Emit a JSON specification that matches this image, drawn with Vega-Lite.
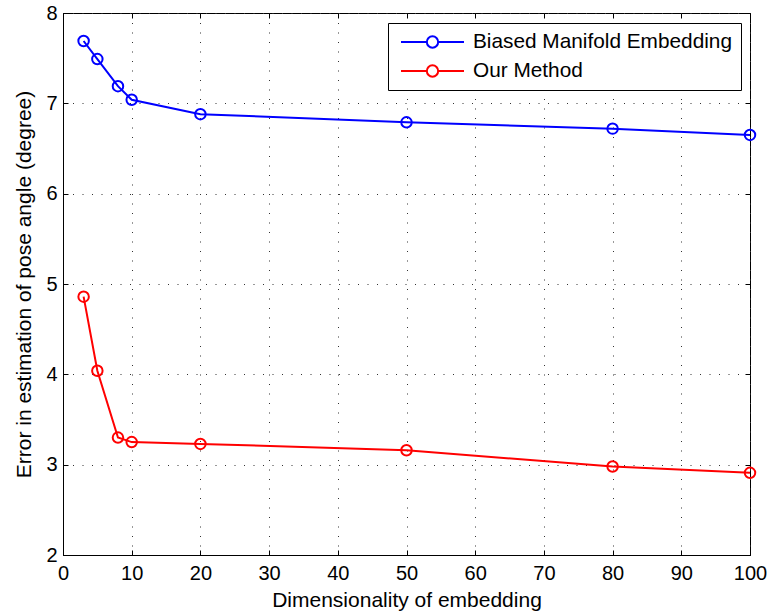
{
  "$schema": "https://vega.github.io/schema/vega-lite/v6.json",
  "width": 687,
  "height": 542,
  "autosize": "none",
  "padding": {"left": 63, "top": 13, "right": 22, "bottom": 60},
  "background": "white",
  "config": {
    "view": {"stroke": "black", "strokeWidth": 1},
    "font": "Liberation Sans",
    "axis": {
      "labelFont": "Liberation Sans",
      "titleFont": "Liberation Sans",
      "labelFontSize": 20,
      "titleFontSize": 21,
      "titleFontWeight": "normal",
      "labelColor": "black",
      "titleColor": "black",
      "domainColor": "black",
      "tickColor": "black",
      "gridColor": "#333333",
      "gridDash": [1, 8.5],
      "gridOpacity": 1,
      "gridWidth": 1
    }
  },
  "data": {
    "values": [
      {"dim": 3, "err": 7.69, "method": "Biased Manifold Embedding"},
      {"dim": 5, "err": 7.49, "method": "Biased Manifold Embedding"},
      {"dim": 8, "err": 7.19, "method": "Biased Manifold Embedding"},
      {"dim": 10, "err": 7.04, "method": "Biased Manifold Embedding"},
      {"dim": 20, "err": 6.88, "method": "Biased Manifold Embedding"},
      {"dim": 50, "err": 6.79, "method": "Biased Manifold Embedding"},
      {"dim": 80, "err": 6.72, "method": "Biased Manifold Embedding"},
      {"dim": 100, "err": 6.65, "method": "Biased Manifold Embedding"},
      {"dim": 3, "err": 4.86, "method": "Our Method"},
      {"dim": 5, "err": 4.04, "method": "Our Method"},
      {"dim": 8, "err": 3.30, "method": "Our Method"},
      {"dim": 10, "err": 3.25, "method": "Our Method"},
      {"dim": 20, "err": 3.23, "method": "Our Method"},
      {"dim": 50, "err": 3.16, "method": "Our Method"},
      {"dim": 80, "err": 2.98, "method": "Our Method"},
      {"dim": 100, "err": 2.91, "method": "Our Method"}
    ]
  },
  "layer": [
    {
      "mark": {"type": "line", "strokeWidth": 2},
      "encoding": {
        "x": {
          "field": "dim", "type": "quantitative",
          "scale": {"domain": [0, 100], "nice": false},
          "axis": {"values": [0,10,20,30,40,50,60,70,80,90,100], "tickSize": -5, "labelPadding": 13, "title": "Dimensionality of embedding", "titlePadding": 6, "grid": true, "labelFlush": false, "labelOverlap": false}
        },
        "y": {
          "field": "err", "type": "quantitative",
          "scale": {"domain": [2, 8], "nice": false, "zero": false},
          "axis": {"values": [2,3,4,5,6,7,8], "tickSize": -5, "labelPadding": 11, "title": "Error in estimation of pose angle (degree)", "titlePadding": 11, "grid": true, "labelFlush": false, "labelOverlap": false}
        },
        "color": {
          "field": "method", "type": "nominal",
          "scale": {"domain": ["Biased Manifold Embedding", "Our Method"], "range": ["#0000ff", "#ff0000"]},
          "legend": {
            "title": null,
            "orient": "none",
            "legendX": 325,
            "legendY": 10,
            "fillColor": "white",
            "strokeColor": "black",
            "padding": 9,
            "clipHeight": 20,
            "labelFont": "Liberation Sans",
            "labelFontSize": 20.8,
            "labelColor": "black",
            "labelOffset": 8,
            "labelLimit": 0,
            "rowPadding": 8,
            "symbolOffset": 3,
            "symbolType": "M-1,0H-0.18M0.18,0H1M-0.18,0A0.18,0.18,0,1,0,0.18,0A0.18,0.18,0,1,0,-0.18,0",
            "symbolSize": 3969,
            "symbolStrokeWidth": 2,
            "symbolFillColor": "transparent"
          }
        }
      }
    },
    {
      "mark": {"type": "point", "shape": "circle", "filled": false, "size": 110, "strokeWidth": 2, "opacity": 1},
      "encoding": {
        "x": {"field": "dim", "type": "quantitative", "axis": null},
        "y": {"field": "err", "type": "quantitative", "axis": null},
        "color": {"field": "method", "type": "nominal", "legend": null}
      }
    },
    {
      "mark": {"type": "point", "opacity": 0},
      "encoding": {
        "x": {"field": "dim", "type": "quantitative", "axis": {"orient": "top", "values": [0,10,20,30,40,50,60,70,80,90,100], "tickSize": -5, "labels": false, "title": null, "grid": false, "domain": false}},
        "y": {"field": "err", "type": "quantitative", "axis": {"orient": "right", "values": [2,3,4,5,6,7,8], "tickSize": -5, "labels": false, "title": null, "grid": false, "domain": false}}
      }
    }
  ],
  "resolve": {"axis": {"x": "independent", "y": "independent"}}
}
